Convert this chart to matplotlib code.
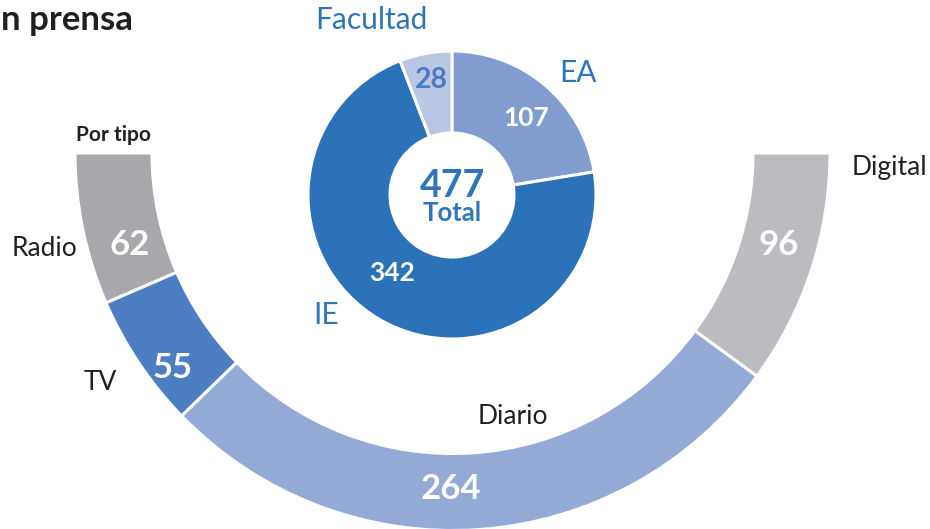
import matplotlib.pyplot as plt

plt.rcParams['font.family'] = ['Lato', 'DejaVu Sans']

# ---- data ----
tipo_labels = ["Radio", "TV", "Diario", "Digital"]
tipo_values = [62, 55, 264, 96]
tipo_colors = ["#A7A8AB", "#4C7EC1", "#94AAD6", "#BBBCC0"]

fac_labels = ["EA", "IE", "Facultad"]
fac_values = [107, 342, 28]
fac_colors = ["#819DCF", "#2B72B8", "#B9C6E4"]

total = sum(fac_values)
title = "n prensa"
subtitle = "Por tipo"

W, H = 930, 529
BLUE = "#2F75BB"
DARK = "#231F20"

fig = plt.figure(figsize=(W / 100, H / 100), dpi=100)
ax = fig.add_axes([0, 0, 1, 1])

def P(x, y):
    return (x, H - y)

# outer semi ring (bottom half)
vals = tipo_values + [sum(tipo_values)]
cols = tipo_colors + ["white"]
wedges, _ = ax.pie(vals, colors=cols, startangle=180, counterclock=True,
                   radius=377.5, center=P(452.5, 153),
                   wedgeprops=dict(width=77, edgecolor="white", linewidth=2.2))
wedges[-1].set_visible(False)

# inner donut
ax.pie(fac_values, colors=fac_colors, startangle=90, counterclock=False,
       radius=144, center=P(452, 195),
       wedgeprops=dict(width=82, edgecolor="white", linewidth=2.2))

ax.set_xlim(0, W)
ax.set_ylim(0, H)
ax.set_aspect('equal')
ax.axis('off')

def T(x, y, s, size, color=DARK, weight='normal', ha='center', va='center'):
    ax.text(*P(x, y), s, fontsize=size, color=color, fontweight=weight,
            ha=ha, va=va)

T(1, 20, title, 25, weight='bold', ha='left')
T(113, 135, subtitle, 15, weight='bold')

# inner labels
T(371, 20, fac_labels[2], 21.5, color=BLUE)
T(578, 73, fac_labels[0], 21.5, color=BLUE)
T(326, 315, fac_labels[1], 21.5, color=BLUE)
T(526, 118, str(fac_values[0]), 19, color='white', weight='bold')
T(392, 273, str(fac_values[1]), 19, color='white', weight='bold')
T(431, 80, str(fac_values[2]), 20.5, color="#4A7CC2", weight='bold')
T(452, 186, str(total), 27, color=BLUE, weight='bold')
T(452, 213, "Total", 18.5, color=BLUE, weight='bold')

# outer labels
T(44, 248, tipo_labels[0], 19)
T(100, 383, tipo_labels[1], 19)
T(513, 417, tipo_labels[2], 19)
T(889, 167, tipo_labels[3], 19)
T(130, 245, str(tipo_values[0]), 25, color='white', weight='bold')
T(173, 368, str(tipo_values[1]), 25, color='white', weight='bold')
T(451, 489, str(tipo_values[2]), 25, color='white', weight='bold')
T(779, 245, str(tipo_values[3]), 25, color='white', weight='bold')

fig.savefig("out.png", dpi=100, facecolor='white')
